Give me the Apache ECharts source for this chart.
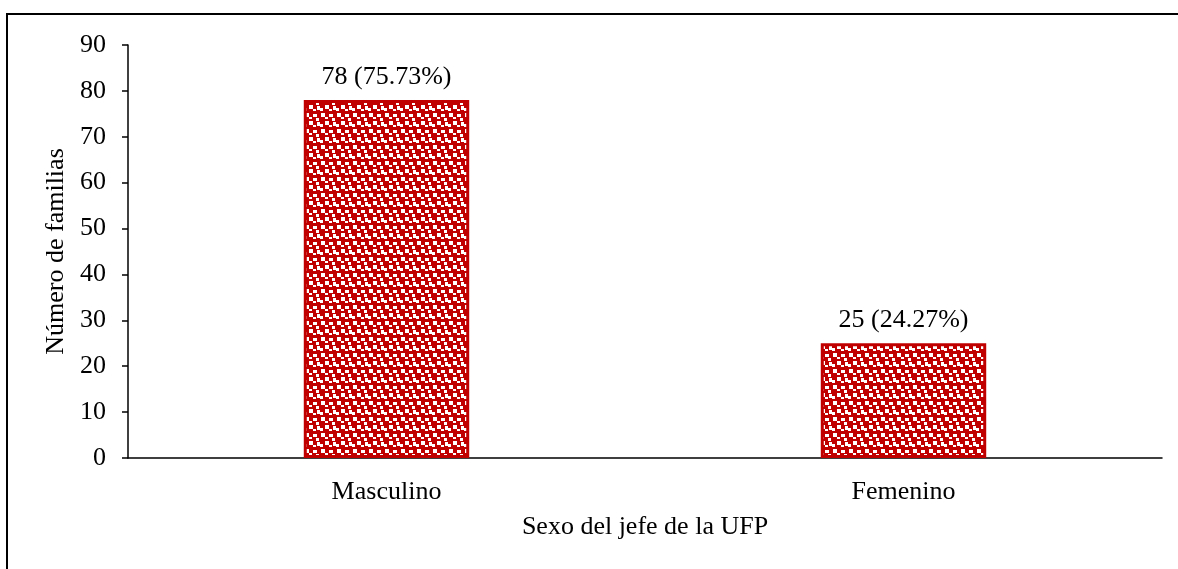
<!DOCTYPE html>
<html>
<head>
<meta charset="utf-8">
<script src="https://cdn.jsdelivr.net/npm/echarts@6/dist/echarts.min.js"></script>
<style>
  html, body { margin: 0; padding: 0; background: #fff; }
  #main { width: 1178px; height: 569px; }
</style>
</head>
<body>
<div id="main"></div>
<script>
// Sexo del jefe de la UFP
var categories = ['Masculino', 'Femenino'];
var familias = [78, 25];
var porcentajes = ['75.73%', '24.27%'];
var yTicks = [0, 10, 20, 30, 40, 50, 60, 70, 80, 90];

var fontFam = '"Liberation Serif", "Times New Roman", serif';
var red = '#C00000';

// confetti pattern tile: red with small white squares
function makeTile() {
    var c = document.createElement('canvas');
    c.width = 16; c.height = 16;
    var ctx = c.getContext('2d');
    ctx.fillStyle = red;
    ctx.fillRect(0, 0, 16, 16);
    ctx.fillStyle = '#ffffff';
    var sq = [[1, 1, 4, 4], [9, 2, 4, 3], [5, 9, 4, 4], [13, 10, 3, 4],
              [5, 5, 3, 2], [12, 6, 3, 3], [0, 12, 3, 3], [9, 13, 3, 2]];
    for (var i = 0; i < sq.length; i++) ctx.fillRect(sq[i][0], sq[i][1], sq[i][2], sq[i][3]);
    return c;
}
var pattern = { image: makeTile(), repeat: 'repeat' };

var myChart = echarts.init(document.getElementById('main'));
var option = {
    backgroundColor: '#fff',
    animation: false,
    textStyle: { fontFamily: fontFam, color: '#000' },
    graphic: [{
        type: 'rect',
        shape: { x: 7, y: 14, width: 1200, height: 600 },
        style: { fill: 'none', stroke: '#000', lineWidth: 2 },
        silent: true
    }],
    grid: { left: 128, right: 16, top: 45, bottom: 111, containLabel: false },
    xAxis: {
        type: 'category',
        data: categories,
        name: 'Sexo del jefe de la UFP',
        nameLocation: 'middle',
        nameGap: 56,
        nameTextStyle: { fontSize: 26, fontFamily: fontFam, color: '#000' },
        axisLine: { show: true, lineStyle: { color: '#000', width: 1.5 } },
        axisTick: { show: false },
        axisLabel: { fontSize: 26, fontFamily: fontFam, color: '#000', margin: 21 }
    },
    yAxis: {
        type: 'value',
        min: yTicks[0],
        max: yTicks[yTicks.length - 1],
        interval: 10,
        name: 'Número de familias',
        nameLocation: 'middle',
        nameGap: 58,
        nameTextStyle: { fontSize: 26, fontFamily: fontFam, color: '#000' },
        axisLine: { show: true, lineStyle: { color: '#000', width: 1.5 } },
        axisTick: { show: true, inside: false, length: 6, lineStyle: { color: '#000', width: 1.5 } },
        axisLabel: { fontSize: 26, fontFamily: fontFam, color: '#000', margin: 22 },
        splitLine: { show: false }
    },
    series: [{
        type: 'bar',
        data: familias,
        barWidth: '32%',
        itemStyle: { color: pattern, borderColor: red, borderWidth: 3 },
        label: {
            show: true,
            position: 'top',
            distance: 10,
            fontSize: 26,
            fontFamily: fontFam,
            color: '#000',
            formatter: function (p) { return p.value + ' (' + porcentajes[p.dataIndex] + ')'; }
        }
    }]
};
myChart.setOption(option);
</script>
</body>
</html>
